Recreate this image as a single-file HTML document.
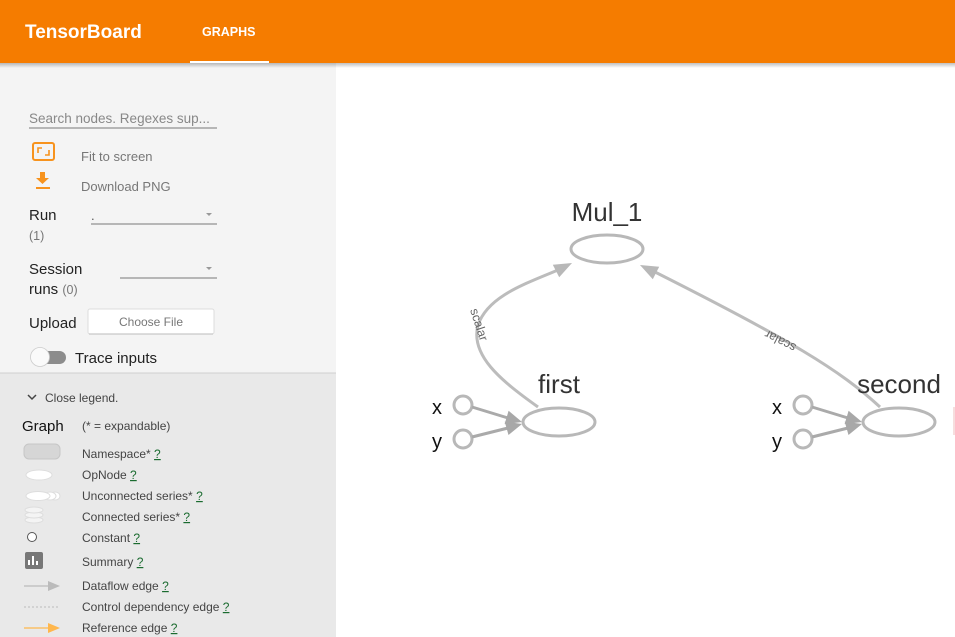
<!DOCTYPE html>
<html><head><meta charset="utf-8"><style>
html,body{margin:0;padding:0;width:955px;height:637px;overflow:hidden;background:#fff;font-family:"Liberation Sans",sans-serif}
svg{display:block}
</style></head><body>
<svg width="955" height="637" viewBox="0 0 955 637" xmlns="http://www.w3.org/2000/svg" font-family="Liberation Sans, sans-serif">
<defs>
<linearGradient id="sh" x1="0" y1="0" x2="0" y2="1"><stop offset="0" stop-color="#000" stop-opacity="0.25"/><stop offset="1" stop-color="#000" stop-opacity="0"/></linearGradient>
<marker id="ar" viewBox="0 0 10 10" refX="9" refY="5" markerWidth="5" markerHeight="5" orient="auto"><path d="M0,0L10,5L0,10z" fill="#b3b3b3"/></marker>
</defs>
<rect x="0" y="63" width="336" height="310" fill="#f4f4f4"/>
<rect x="0" y="373" width="336" height="264" fill="#e9e9e9"/>
<line x1="0" y1="373" x2="336" y2="373" fill="none" stroke="#d0d0d0"/>
<rect x="0" y="0" width="955" height="63" fill="#f57c00"/>
<rect x="0" y="63" width="955" height="5" fill="url(#sh)"/>
<text x="25" y="38" font-size="19" font-weight="bold" fill="#fff">TensorBoard</text>
<text x="202" y="36" font-size="12.5" font-weight="bold" fill="#fff">GRAPHS</text>
<rect x="190" y="61" width="79" height="2" fill="#fff"/>
<text x="29" y="123" font-size="13.5" fill="#888">Search nodes. Regexes sup...</text>
<line x1="29" y1="128" x2="217" y2="128" stroke="#777" stroke-width="1"/>
<rect x="33" y="143" width="21" height="17" rx="2" fill="none" stroke="#f7931e" stroke-width="2"/>
<path d="M38,153v-5h4M49,150v5h-4" fill="none" stroke="#f7931e" stroke-width="1.6"/>
<text x="81" y="161" font-size="13" fill="#777">Fit to screen</text>
<path d="M40,172h5v6h4l-6.5,6l-6.5,-6h4z" fill="#f7931e"/><rect x="36" y="187" width="14" height="2" fill="#f7931e"/>
<text x="81" y="191" font-size="13" fill="#777">Download PNG</text>
<text x="29" y="220" font-size="15" fill="#222">Run</text>
<text x="29" y="240" font-size="12.5" fill="#777">(1)</text>
<text x="91" y="220" font-size="13" fill="#555">.</text>
<path d="M206,213l3,3l3,-3z" fill="#999"/>
<line x1="91" y1="224" x2="217" y2="224" stroke="#777"/>
<text x="29" y="274" font-size="15" fill="#222">Session</text>
<text x="29" y="294" font-size="15" fill="#222">runs <tspan font-size="12.5" fill="#777">(0)</tspan></text>
<path d="M206,267l3,3l3,-3z" fill="#999"/>
<line x1="120" y1="278" x2="217" y2="278" stroke="#777"/>
<text x="29" y="328" font-size="15" fill="#222">Upload</text>
<rect x="88" y="309" width="126" height="25" rx="2" fill="#fff" stroke="#ddd"/>
<line x1="89" y1="334" x2="213" y2="334" stroke="#bbb"/>
<text x="151" y="326" font-size="12" fill="#777" text-anchor="middle">Choose File</text>
<rect x="31" y="351" width="35" height="13" rx="6.5" fill="#8c8c8c"/>
<circle cx="40" cy="357" r="9.5" fill="#fafafa" stroke="#ccc" stroke-width="0.8"/>
<text x="75" y="363" font-size="15" fill="#222">Trace inputs</text>
<path d="M28,395l4,4l4,-4" fill="none" stroke="#444" stroke-width="1.5"/>
<text x="45" y="402" font-size="12" fill="#444">Close legend.</text>
<text x="22" y="431" font-size="15" fill="#111">Graph</text>
<text x="82" y="430" font-size="12" fill="#444">(* = expandable)</text>
<rect x="24" y="444" width="36" height="15" rx="5" fill="#d6d6d6" stroke="#c6c6c6"/>
<text x="82" y="458" font-size="12" fill="#444">Namespace* <tspan fill="#1a6b2f" text-decoration="underline">?</tspan></text>
<ellipse cx="39" cy="475" rx="13" ry="5" fill="#fff" stroke="#ddd"/>
<text x="82" y="479" font-size="12" fill="#444">OpNode <tspan fill="#1a6b2f" text-decoration="underline">?</tspan></text>
<ellipse cx="55" cy="496" rx="5" ry="4" fill="#fff" stroke="#ddd"/><ellipse cx="50" cy="496" rx="6" ry="4" fill="#fff" stroke="#ddd"/><ellipse cx="38" cy="496" rx="12" ry="4.5" fill="#fff" stroke="#ddd"/>
<text x="82" y="500" font-size="12" fill="#444">Unconnected series* <tspan fill="#1a6b2f" text-decoration="underline">?</tspan></text>
<ellipse cx="34" cy="520" rx="9" ry="3" fill="#f4f4f4" stroke="#ddd"/><ellipse cx="34" cy="515" rx="9" ry="3" fill="#f4f4f4" stroke="#ddd"/><ellipse cx="34" cy="510" rx="9" ry="3" fill="#f4f4f4" stroke="#ddd"/>
<text x="82" y="521" font-size="12" fill="#444">Connected series* <tspan fill="#1a6b2f" text-decoration="underline">?</tspan></text>
<circle cx="32" cy="537" r="4.5" fill="#fff" stroke="#555"/>
<text x="82" y="542" font-size="12" fill="#444">Constant <tspan fill="#1a6b2f" text-decoration="underline">?</tspan></text>
<rect x="25" y="552" width="18" height="17" rx="2" fill="#777"/>
<path d="M29,565v-5M33,565v-9M37,565v-4" stroke="#fff" stroke-width="2"/>
<text x="82" y="566" font-size="12" fill="#444">Summary <tspan fill="#1a6b2f" text-decoration="underline">?</tspan></text>
<line x1="24" y1="586" x2="50" y2="586" stroke="#bbb" stroke-width="1.3"/>
<path d="M48,581l12,5l-12,5z" fill="#bbb"/>
<text x="82" y="590" font-size="12" fill="#444">Dataflow edge <tspan fill="#1a6b2f" text-decoration="underline">?</tspan></text>
<line x1="24" y1="607" x2="60" y2="607" stroke="#bbb" stroke-width="1" stroke-dasharray="2,2"/>
<text x="82" y="611" font-size="12" fill="#444">Control dependency edge <tspan fill="#1a6b2f" text-decoration="underline">?</tspan></text>
<line x1="24" y1="628" x2="50" y2="628" stroke="#ffb74d" stroke-width="1.3"/>
<path d="M48,623l12,5l-12,5z" fill="#ffb74d"/>
<text x="82" y="632" font-size="12" fill="#444">Reference edge <tspan fill="#1a6b2f" text-decoration="underline">?</tspan></text>
<!-- graph -->
<g fill="none" stroke="#bcbcbc" stroke-width="3">
<path d="M538,407C500,380 470,355 478,325C488,296 525,284 558,270"/>
<path d="M880,407C840,370 790,340 655,272"/>
</g>
<polygon points="572,263 559.2,277.3 552.8,264.7" fill="#b8b8b8"/>
<polygon points="640,265 659.2,266.8 652.8,279.2" fill="#b8b8b8"/>
<text font-size="12.5" fill="#666" transform="translate(470,310) rotate(72)">scalar</text>
<text font-size="12.5" fill="#666" transform="translate(797,345) rotate(-153)">scalar</text>
<g fill="none" stroke="#b8b8b8" stroke-width="3">
<ellipse cx="607" cy="249" rx="36" ry="14"/>
<ellipse cx="559" cy="422" rx="36" ry="14"/>
<ellipse cx="899" cy="422" rx="36" ry="14"/>
<circle cx="463" cy="405" r="9"/><circle cx="463" cy="439" r="9"/>
<circle cx="803" cy="405" r="9"/><circle cx="803" cy="439" r="9"/>
</g>
<g stroke="#aaa" stroke-width="3" fill="none">
<line x1="472" y1="407" x2="508" y2="418"/>
<line x1="472" y1="437" x2="508" y2="428"/>
<line x1="812" y1="407" x2="848" y2="418"/>
<line x1="812" y1="437" x2="848" y2="428"/>
</g>
<g fill="#a8a8a8">
<polygon points="522,422 504.6,424.1 508.6,410.7"/>
<polygon points="522,424 508.5,435 504.7,421.6"/>
<polygon points="862,422 844.6,424.1 848.6,410.7"/>
<polygon points="862,424 848.5,435 844.7,421.6"/>
</g>
<g font-size="26" fill="#333" text-anchor="middle">
<text x="607" y="221">Mul_1</text>
<text x="559" y="393">first</text>
<text x="899" y="393">second</text>
</g>
<g font-size="20" fill="#111">
<text x="432" y="414">x</text><text x="432" y="448">y</text>
<text x="772" y="414">x</text><text x="772" y="448">y</text>
</g>
<rect x="953" y="407" width="2" height="28" fill="#f6dede"/>
</svg>
</body></html>
